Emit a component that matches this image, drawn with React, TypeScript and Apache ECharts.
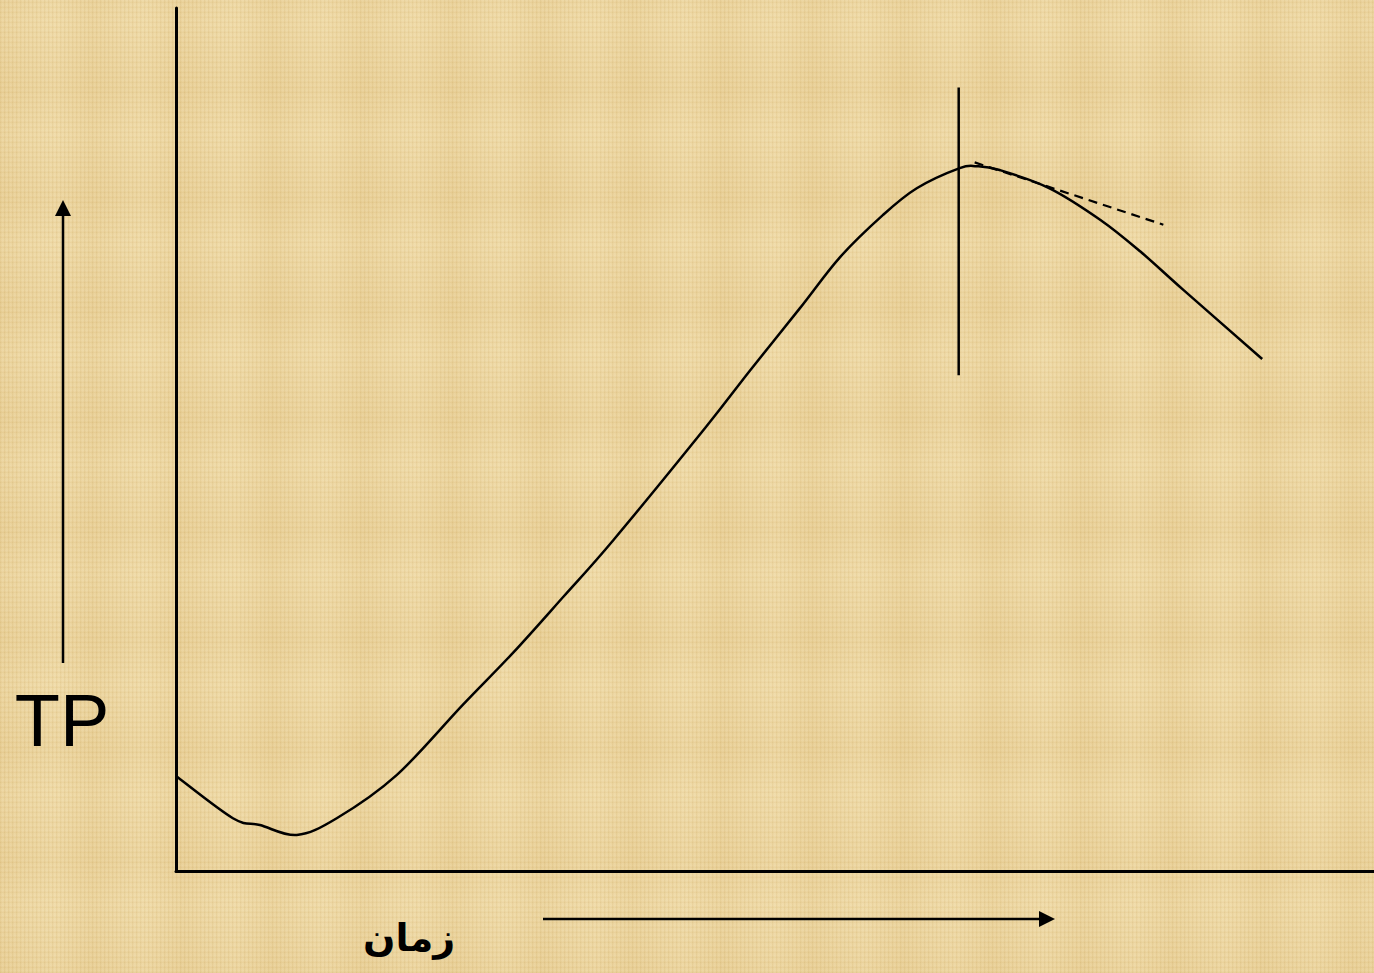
import React, { useEffect, useRef } from "react";
import * as echarts from "echarts";

// Total product (TP) over time: falls slightly, rises, peaks and declines.
const timeValues = [0, 5.7, 8.4, 12.1, 16.1, 22.1, 28.7, 33.8, 38.8, 43.8, 53.0, 57.5, 62.5, 66.5, 70.8, 74.2, 78.5, 80.2, 82.5, 87.5, 92.6, 96.6, 100.9, 108.8];
const tpValues = [9.9, 5.5, 4.8, 3.75, 5.5, 10.0, 17.3, 22.8, 28.6, 34.5, 46.2, 52.2, 58.7, 64.0, 68.4, 71.2, 73.3, 73.5, 73.1, 71.2, 67.9, 64.6, 60.6, 53.4];

// Vertical marker at the peak and the dashed tangent just after it.
const peakMarkerX = [78.4, 78.4];
const peakMarkerY = [51.7, 81.7];
const tangentX = [80.0, 98.9];
const tangentY = [73.9, 67.4];

const X_MAX = 120;
const Y_MAX = 90;

const yAxisLabel = "TP";
const xAxisLabel = "زمان";

const pairs = (xs: number[], ys: number[]) => xs.map((x, i) => [x, ys[i]]);

// Catmull-Rom spline through pixel points, written as cubic Bezier path data.
function splinePath(pts: number[][]): string {
  if (pts.length < 2) return "";
  let d = `M${pts[0][0]},${pts[0][1]}`;
  for (let i = 0; i < pts.length - 1; i++) {
    const p0 = pts[i === 0 ? 0 : i - 1];
    const p1 = pts[i];
    const p2 = pts[i + 1];
    const p3 = pts[i + 2 < pts.length ? i + 2 : pts.length - 1];
    const c1x = p1[0] + (p2[0] - p0[0]) / 6;
    const c1y = p1[1] + (p2[1] - p0[1]) / 6;
    const c2x = p2[0] - (p3[0] - p1[0]) / 6;
    const c2y = p2[1] - (p3[1] - p1[1]) / 6;
    d += ` C${c1x},${c1y} ${c2x},${c2y} ${p2[0]},${p2[1]}`;
  }
  return d;
}

export default function App() {
  const ref = useRef<HTMLDivElement>(null);

  useEffect(() => {
    if (!ref.current) return;
    const chart = echarts.init(ref.current, undefined, { renderer: "svg" });
    const black = "#000000";
    const curveData = pairs(timeValues, tpValues);
    chart.setOption({
      animation: false,
      backgroundColor: "transparent",
      grid: { left: 176, top: 8, right: 0, bottom: 102 },
      xAxis: {
        type: "value",
        min: 0,
        max: X_MAX,
        axisLine: { show: true, lineStyle: { color: black, width: 3 } },
        axisTick: { show: false },
        axisLabel: { show: false },
        splitLine: { show: false },
      },
      yAxis: {
        type: "value",
        min: 0,
        max: Y_MAX,
        axisLine: { show: true, lineStyle: { color: black, width: 3 } },
        axisTick: { show: false },
        axisLabel: { show: false },
        splitLine: { show: false },
      },
      series: [
        {
          // TP curve: every point goes through the axes' scales, then a smooth spline joins them
          type: "custom",
          data: curveData,
          encode: { x: 0, y: 1 },
          z: 3,
          renderItem: (params: any, api: any) => {
            if (params.dataIndex !== 0) return null;
            const pts = curveData.map((p) => api.coord(p));
            return {
              type: "path",
              shape: { pathData: splinePath(pts) },
              style: { fill: "none", stroke: black, lineWidth: 2.5 },
            };
          },
        },
        {
          type: "line",
          data: pairs(peakMarkerX, peakMarkerY),
          showSymbol: false,
          lineStyle: { color: black, width: 2.5 },
          z: 3,
        },
        {
          type: "line",
          data: pairs(tangentX, tangentY),
          showSymbol: false,
          lineStyle: { color: black, width: 2.2, type: [9, 6] },
          z: 3,
        },
      ],
      graphic: [
        // upward arrow beside the vertical axis
        { type: "line", shape: { x1: 63, y1: 663, x2: 63, y2: 212 }, style: { stroke: black, lineWidth: 2.5 } },
        { type: "polygon", shape: { points: [[63, 200], [55, 216], [71, 216]] }, style: { fill: black } },
        {
          type: "text",
          x: 62,
          y: 720,
          style: {
            text: yAxisLabel,
            font: "74px 'Liberation Sans', Arial, sans-serif",
            fill: black,
            align: "center",
            verticalAlign: "middle",
          },
        },
        // rightward arrow under the horizontal axis
        { type: "line", shape: { x1: 543, y1: 919, x2: 1042, y2: 919 }, style: { stroke: black, lineWidth: 2.5 } },
        { type: "polygon", shape: { points: [[1055, 919], [1039, 911], [1039, 927]] }, style: { fill: black } },
        {
          type: "text",
          x: 409,
          y: 938,
          style: {
            text: xAxisLabel,
            font: "bold 38px 'DejaVu Sans', sans-serif",
            fill: black,
            align: "center",
            verticalAlign: "middle",
          },
        },
      ],
    });
    return () => chart.dispose();
  }, []);

  const texture = [
    "repeating-linear-gradient(90deg, rgba(190,150,70,0.10) 0px, rgba(190,150,70,0.10) 1px, rgba(255,245,215,0.10) 2px, rgba(255,245,215,0) 4px)",
    "repeating-linear-gradient(0deg, rgba(190,150,70,0.08) 0px, rgba(190,150,70,0.08) 1px, rgba(255,245,215,0.10) 2px, rgba(255,245,215,0) 5px)",
    "repeating-linear-gradient(90deg, rgba(210,170,90,0.10) 0px, rgba(210,170,90,0) 30px, rgba(255,240,200,0.10) 55px, rgba(210,170,90,0.08) 90px)",
    "repeating-linear-gradient(0deg, rgba(210,170,90,0.08) 0px, rgba(210,170,90,0) 40px, rgba(255,240,200,0.10) 70px, rgba(210,170,90,0.06) 110px)",
  ].join(", ");

  return (
    <div
      style={{
        position: "fixed",
        left: 0,
        top: 0,
        width: 1374,
        height: 973,
        backgroundColor: "#ecd5a0",
        backgroundImage: texture,
      }}
    >
      <div ref={ref} style={{ width: 1374, height: 973 }} />
    </div>
  );
}
